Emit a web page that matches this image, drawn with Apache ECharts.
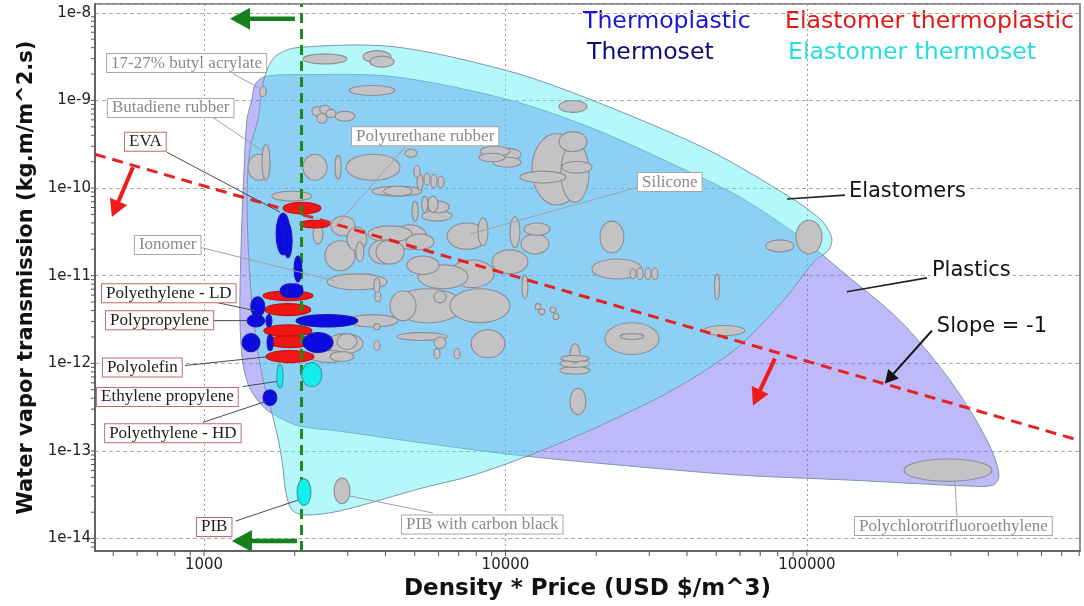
<!DOCTYPE html>
<html>
<head>
<meta charset="utf-8">
<script src="https://cdn.jsdelivr.net/npm/echarts@6/dist/echarts.min.js"></script>
<style>
  html, body { margin: 0; padding: 0; background: #ffffff; }
  #chart { width: 1084px; height: 606px; }
</style>
</head>
<body>
<div id="chart"></div>
<script>
// Axis ranges: density*price (USD/m^3) and water vapour transmission (kg.m/m^2.s)
const X_RANGE = [435, 805000];
const Y_RANGE = [7.2e-15, 1.26e-8];

// Material bubbles as [price min, price max, WVTR min, WVTR max]
const otherMaterials = [
  [2130, 2980, 2.6e-9, 3.4e-9], [3370, 4170, 2.7e-9, 3.7e-9], [3550, 4270, 2.4e-9, 3.2e-9],
  [3030, 4300, 1.14e-9, 1.48e-9], [1530, 1610, 1.11e-9, 1.44e-9],
  [2280, 2500, 6.6e-10, 8.5e-10], [2420, 2620, 7.1e-10, 8.8e-10], [2370, 2560, 5.5e-10, 7.1e-10],
  [2540, 2740, 6.4e-10, 7.9e-10], [2720, 3170, 5.8e-10, 7.5e-10], [4640, 5090, 2.25e-10, 2.77e-10],
  [1400, 1655, 1.23e-10, 2.43e-10], [1557, 1655, 1.23e-10, 3.16e-10], [2130, 2560, 1.23e-10, 2.43e-10],
  [2720, 2850, 1.26e-10, 2.37e-10], [2960, 4470, 1.23e-10, 2.43e-10], [1680, 2280, 7.1e-11, 9.2e-11],
  [3610, 5280, 8.1e-11, 1.05e-10], [3950, 4900, 8.1e-11, 1.05e-10], [5090, 5330, 9.5e-11, 1.44e-10],
  [5370, 5620, 1.08e-10, 1.48e-10], [5660, 5930, 1.0e-10, 1.44e-10], [5975, 6250, 1.0e-10, 1.37e-10],
  [4970, 5210, 1.33e-10, 1.82e-10], [8240, 10350, 2.3e-10, 3.0e-10], [9230, 11260, 2.07e-10, 2.84e-10],
  [9090, 11260, 1.73e-10, 2.25e-10], [8170, 9960, 2.0e-10, 2.5e-10], [12240, 17940, 6.4e-11, 4.2e-10],
  [15270, 18930, 6.9e-11, 3.3e-10], [15050, 18640, 2.6e-10, 4.4e-10], [15390, 19360, 1.48e-10, 2.02e-10],
  [11170, 15870, 1.14e-10, 1.56e-10], [15050, 18640, 7.3e-10, 1.0e-9], [20580, 24700, 1.82e-11, 4.2e-11],
  [19360, 28370, 9.2e-12, 1.55e-11], [25880, 27100, 9.2e-12, 1.2e-11], [27300, 28580, 9.0e-12, 1.23e-11],
  [29020, 30370, 9.0e-12, 1.23e-11], [30600, 32040, 9.0e-12, 1.23e-11], [11520, 14050, 2.9e-11, 4.0e-11],
  [11260, 13930, 1.77e-11, 3.0e-11], [10350, 11170, 2.1e-11, 4.7e-11], [9020, 11870, 1.05e-11, 1.97e-11],
  [11340, 11870, 5.45e-12, 1.02e-11], [8110, 8750, 2.2e-11, 4.55e-11], [6400, 8680, 2.0e-11, 4.0e-11],
  [3500, 4900, 2.43e-11, 3.7e-11], [3525, 4370, 1.36e-11, 2.56e-11], [4710, 6020, 1.03e-11, 1.68e-11],
  [4680, 5790, 1.97e-11, 3.0e-11], [5130, 7510, 7.1e-12, 1.33e-11], [6550, 9160, 7.3e-12, 1.51e-11],
  [4240, 7230, 2.9e-12, 7.1e-12], [6550, 10350, 2.9e-12, 7.1e-12], [4140, 5050, 3.07e-12, 6.7e-12],
  [5790, 6350, 4.9e-12, 6.7e-12], [3000, 4400, 2.6e-12, 3.6e-12], [3660, 3835, 2.42e-12, 2.84e-12],
  [4370, 6400, 1.82e-12, 2.24e-12], [5790, 6350, 1.47e-12, 2.0e-12], [7690, 9960, 1.16e-12, 2.42e-12],
  [5790, 6070, 1.13e-12, 1.47e-12], [6750, 7070, 1.13e-12, 1.47e-12], [3660, 3835, 1.4e-12, 1.82e-12],
  [2760, 3220, 1.44e-12, 2.18e-12], [2620, 3140, 1.05e-12, 1.36e-12], [12530, 13110, 4.1e-12, 4.8e-12],
  [12910, 13520, 3.6e-12, 4.2e-12], [14050, 14710, 3.8e-12, 4.4e-12], [14380, 15050, 3.15e-12, 3.7e-12],
  [16370, 17670, 1.0e-12, 1.68e-12], [15160, 19070, 9.0e-13, 1.1e-12], [15160, 19070, 7.5e-13, 9.2e-13],
  [15270, 18930, 1.05e-12, 1.23e-12], [21380, 32300, 1.26e-12, 2.9e-12], [23980, 28800, 1.87e-12, 2.18e-12],
  [49350, 51270, 5.3e-12, 1.05e-11], [45400, 62200, 2.07e-12, 2.7e-12], [16370, 18490, 2.6e-13, 5.2e-13],
  [91940, 112200, 1.77e-11, 4.3e-11], [73100, 90560, 1.87e-11, 2.56e-11], [2300, 2480, 2.3e-11, 3.9e-11],
  [2640, 3170, 2.84e-11, 4.8e-11], [2520, 3170, 1.14e-11, 2.5e-11], [2980, 3470, 1.92e-11, 3.6e-11],
  [2560, 4050, 6.9e-12, 1.05e-11], [3660, 3835, 6.2e-12, 9.45e-12], [3690, 3865, 5.05e-12, 6.55e-12],
  [3190, 3390, 1.44e-11, 2.43e-11], [3720, 4610, 1.36e-11, 2.56e-11], [4240, 5490, 2.0e-11, 3.8e-11],
  [2250, 3050, 1.02e-12, 1.4e-12], [2560, 3370, 1.29e-12, 2.18e-12], [5280, 6650, 4.2e-11, 5.5e-11],
  [4900, 5130, 4.2e-11, 7.1e-11], [5280, 5530, 5.3e-11, 8.1e-11], [5530, 5975, 5.3e-11, 8.1e-11],
  [5490, 6500, 5.2e-11, 7.1e-11],
  [2700, 3050, 2.5e-14, 4.9e-14],
  [210000, 411000, 4.5e-14, 8.1e-14]
];
const thermoplastics = [
  [1735, 1930, 1.73e-11, 5.2e-11], [1840, 1960, 1.6e-11, 3.9e-11], [1990, 2110, 8.5e-12, 1.68e-11],
  [1790, 2080, 5.6e-12, 8.1e-12], [1885, 2130, 5.6e-12, 8.1e-12], [1430, 1590, 3.4e-12, 5.75e-12],
  [1390, 1590, 2.6e-12, 3.6e-12], [1605, 1680, 2.6e-12, 3.6e-12], [2020, 3240, 2.6e-12, 3.6e-12],
  [1337, 1534, 1.36e-12, 2.18e-12], [1620, 1695, 1.4e-12, 2.12e-12], [2130, 2680, 1.33e-12, 2.24e-12],
  [1570, 1745, 3.3e-13, 5.0e-13]
];
const elastomerThermoplastics = [
  [1830, 2440, 5.05e-11, 6.9e-11], [2080, 2620, 3.5e-11, 4.3e-11], [1570, 2300, 5.2e-12, 6.7e-12],
  [1590, 2260, 3.5e-12, 4.8e-12], [1580, 2280, 2.02e-12, 2.76e-12], [1620, 2300, 1.51e-12, 2.07e-12],
  [1605, 2315, 1.02e-12, 1.4e-12]
];
const elastomerThermosets = [
  [1745, 1830, 5.2e-13, 9.7e-13], [2110, 2460, 5.4e-13, 1.02e-12], [2035, 2265, 2.4e-14, 4.8e-14]
];

// Family envelopes, as [price, WVTR] outline points
const plasticsEnvelope = [
  [1443, 1.03e-9], [1476, 1.52e-9], [1593, 1.87e-9], [2081, 1.97e-9], [4237, 1.87e-9], [10110, 1.03e-9],
  [19070, 4.93e-10], [35940, 1.87e-10], [60000, 7.88e-11], [94800, 2.77e-11], [133700, 1.05e-11],
  [203500, 3.07e-12], [287000, 7.65e-13], [360600, 2.36e-13], [414000, 9.43e-14], [433400, 5.16e-14],
  [414000, 4.07e-14], [347200, 3.97e-14], [138900, 4.65e-14], [60000, 5.3e-14], [23980, 6.89e-14],
  [11780, 8.7e-14], [6067, 1.16e-13], [2824, 1.68e-13], [2081, 1.91e-13], [1828, 2.3e-13],
  [1593, 3.06e-13], [1421, 5.17e-13], [1346, 9.95e-13], [1316, 3.23e-12], [1327, 2.02e-11],
  [1358, 1.64e-10], [1389, 6.07e-10]
];
const elastomersEnvelope = [
  [1581, 1.73e-9], [1720, 3.16e-9], [2035, 4.0e-9], [4237, 4.11e-9], [10110, 2.19e-9], [19070, 1.03e-9],
  [46560, 2.77e-10], [87800, 7.88e-11], [112200, 4.21e-11], [121000, 2.62e-11], [117400, 1.92e-11],
  [106200, 1.48e-11], [84500, 5.45e-12], [60000, 1.6e-12], [44200, 7.6e-13], [31800, 3.98e-13],
  [19070, 1.72e-13], [11780, 8.7e-14], [7630, 5.16e-14], [5326, 3.8e-14], [2824, 2.07e-14],
  [2162, 1.86e-14], [1958, 2.12e-14], [1871, 3.31e-14], [1828, 6.4e-14], [1774, 1.22e-13],
  [1681, 2.69e-13], [1581, 5.9e-13], [1487, 1.91e-12], [1421, 9.2e-12], [1389, 7.5e-11],
  [1421, 2.77e-10], [1510, 6.07e-10]
];

// Guide lines
const slopeLine = [[435, 2.43e-10], [805000, 1.313e-13]];   // WVTR * price = const (slope -1)
const priceLimit = 2100;

// Callout labels
const calloutLabels = ['17-27% butyl acrylate', 'Butadiene rubber', 'EVA', 'Ionomer', 'Polyethylene - LD',
  'Polypropylene', 'Polyolefin', 'Ethylene propylene', 'Polyethylene - HD', 'PIB', 'PIB with carbon black',
  'Polyurethane rubber', 'Silicone', 'Polychlorotrifluoroethylene'];
const calloutAt = [[477, 2.67e-9], [480, 8.2e-10], [547, 3.37e-10], [590, 2.24e-11], [459, 6.3e-12],
  [473, 3.11e-12], [462, 8.96e-13], [442, 4.14e-13], [470, 1.59e-13], [948, 1.36e-14], [4537, 1.45e-14],
  [3097, 3.89e-10], [27510, 1.17e-10], [144300, 1.39e-14]];
const calloutLeaders = [[1248, 2.02e-9, 1557, 1.33e-9], [1071, 6.4e-10, 1569, 2.63e-10],
  [754, 2.56e-10, 1786, 5.32e-11], [933, 2.18e-11, 2719, 8.74e-12], [1113, 4.91e-12, 1476, 3.99e-12],
  [1071, 3.07e-12, 1399, 3.07e-12], [865, 9.44e-13, 1630, 1.19e-12], [1346, 5.44e-13, 1746, 6.21e-13],
  [992, 2.12e-13, 1605, 3.68e-13], [1277, 1.59e-14, 2050, 2.75e-14], [5747, 1.96e-14, 3049, 3.06e-14],
  [4642, 2.92e-10, 2719, 3.59e-11], [27510, 1.02e-10, 7630, 2.99e-11], [314500, 1.81e-14, 309700, 4.53e-14]];
const keyMaterials = ['EVA', 'Polyethylene - LD', 'Polypropylene', 'Polyolefin', 'Ethylene propylene',
  'Polyethylene - HD', 'PIB'];

// Family captions
const familyLabels = ['Elastomers', 'Plastics', 'Slope = -1'];
const familyAt = [[135700, 9.23e-11], [255800, 1.14e-11], [265700, 2.62e-12]];
const familyLeaders = [[85870, 7.5e-11, 133700, 8.3e-11], [135700, 6.55e-12, 250000, 9.45e-12]];
const slopePointer = [[259800, 2.36e-12, 181400, 5.9e-13]];

// Direction arrows
const redArrows = [[581, 1.73e-10, 495, 4.67e-11], [78300, 1.13e-12, 66220, 3.31e-13]];
const greenArrows = [[2003, 8.55e-9, 1220, 8.55e-9], [2035, 9.4e-15, 1238, 9.4e-15]];

// Logarithmic sub-ticks (2..9 per decade)
function logSubTicks(lo, hi, e0, e1) {
  const out = [];
  for (let e = e0; e <= e1; e++) {
    for (let m = 1; m <= 9; m++) {
      const v = m * Math.pow(10, e);
      if (v > lo * 1.001 && v < hi * 0.999) out.push([v]);
    }
  }
  return out;
}
const xSubTicks = logSubTicks(X_RANGE[0], X_RANGE[1], 2, 5);
const ySubTicks = logSubTicks(Y_RANGE[0], Y_RANGE[1], -15, -9);

const chart = echarts.init(document.getElementById('chart'));

function ellipseSeries(name, data, fill, stroke, z) {
  const sorted = data.slice().sort((a, b) =>
    Math.log(b[1] / b[0]) * Math.log(b[3] / b[2]) - Math.log(a[1] / a[0]) * Math.log(a[3] / a[2]));
  return {
    type: 'custom', name: name, z: z, clip: true, silent: true,
    data: sorted, encode: { x: [0, 1], y: [2, 3] },
    renderItem: function (params, api) {
      const a = api.coord([api.value(0), api.value(3)]);
      const b = api.coord([api.value(1), api.value(2)]);
      return {
        type: 'ellipse',
        shape: { cx: (a[0] + b[0]) / 2, cy: (a[1] + b[1]) / 2,
                 rx: Math.abs(b[0] - a[0]) / 2, ry: Math.abs(b[1] - a[1]) / 2 },
        style: { fill: fill, stroke: stroke, lineWidth: 1.1 }
      };
    }
  };
}

function envelopeSeries(name, points, fill, z) {
  return {
    type: 'custom', name: name, z: z, clip: true, silent: true,
    data: points,
    renderItem: function (params, api) {
      if (params.dataIndex !== 0) return null;
      return {
        type: 'polygon',
        shape: { points: points.map(p => api.coord(p)), smooth: 0.3 },
        style: { fill: fill, stroke: '#7f95aa', lineWidth: 1 }
      };
    }
  };
}

function segmentSeries(name, segs, color, width, z) {
  return {
    type: 'custom', name: name, z: z, silent: true,
    data: segs, encode: { x: [0, 2], y: [1, 3] },
    renderItem: function (params, api) {
      const a = api.coord([api.value(0), api.value(1)]);
      const b = api.coord([api.value(2), api.value(3)]);
      return { type: 'line', shape: { x1: a[0], y1: a[1], x2: b[0], y2: b[1] },
               style: { stroke: typeof color === 'function' ? color(params.dataIndex) : color, lineWidth: width } };
    }
  };
}

function arrowSeries(name, segs, color, width, head, z) {
  return {
    type: 'custom', name: name, z: z, silent: true,
    data: segs, encode: { x: [0, 2], y: [1, 3] },
    renderItem: function (params, api) {
      const a = api.coord([api.value(0), api.value(1)]);
      const b = api.coord([api.value(2), api.value(3)]);
      const ang = Math.atan2(b[1] - a[1], b[0] - a[0]);
      const hw = head * 0.55;
      const base = [b[0] - head * Math.cos(ang), b[1] - head * Math.sin(ang)];
      const l = [base[0] + hw * Math.sin(ang), base[1] - hw * Math.cos(ang)];
      const r = [base[0] - hw * Math.sin(ang), base[1] + hw * Math.cos(ang)];
      return { type: 'group', children: [
        { type: 'line', shape: { x1: a[0], y1: a[1], x2: base[0] + 1 * Math.cos(ang), y2: base[1] + 1 * Math.sin(ang) },
          style: { stroke: color, lineWidth: width } },
        { type: 'polygon', shape: { points: [b, l, r] }, style: { fill: color } }
      ] };
    }
  };
}

const legendFont = '23.6px "DejaVu Sans"';

const option = {
  animation: false,
  backgroundColor: '#ffffff',
  grid: { left: 95, right: 4, top: 4, bottom: 53, show: true, borderColor: '#8c8c8c', borderWidth: 2,
          backgroundColor: 'transparent' },
  xAxis: {
    type: 'log', logBase: 10, min: X_RANGE[0], max: X_RANGE[1],
    name: 'Density * Price (USD $/m^3)', nameLocation: 'middle', nameGap: 24,
    nameTextStyle: { fontFamily: 'DejaVu Sans', fontWeight: 'bold', fontSize: 23, color: '#111' },
    axisLine: { show: true, onZero: false, lineStyle: { color: '#555', width: 1.5 } },
    axisTick: { show: false },
    axisLabel: { formatter: v => String(Math.round(v)), showMinLabel: false, showMaxLabel: false,
                 margin: 7, color: '#222', fontFamily: 'DejaVu Sans', fontSize: 15 },
    splitLine: { show: true, lineStyle: { color: '#9a9a9a', type: [2, 3], width: 1 } }
  },
  yAxis: {
    type: 'log', logBase: 10, min: Y_RANGE[0], max: Y_RANGE[1],
    name: 'Water vapor transmission (kg.m/m^2.s)', nameLocation: 'middle', nameGap: 52,
    nameTextStyle: { fontFamily: 'DejaVu Sans', fontWeight: 'bold', fontSize: 21, color: '#111' },
    axisLine: { show: true, onZero: false, lineStyle: { color: '#555', width: 1.5 } },
    axisTick: { show: false },
    axisLabel: { formatter: v => '1e' + Math.round(Math.log10(v)), showMinLabel: false, showMaxLabel: false,
                 margin: 4, color: '#222', fontFamily: 'DejaVu Sans', fontSize: 15 },
    splitLine: { show: true, lineStyle: { color: '#a8a8a8', type: [4, 3], width: 1 } }
  },
  graphic: [
    { type: 'text', left: 583, top: 10, style: { text: 'Thermoplastic', fill: '#1616d6', font: legendFont } },
    { type: 'text', left: 587, top: 41, style: { text: 'Thermoset', fill: '#0d0d74', font: legendFont } },
    { type: 'text', left: 785, top: 10, style: { text: 'Elastomer thermoplastic', fill: '#e01818', font: legendFont } },
    { type: 'text', left: 788, top: 41, style: { text: 'Elastomer thermoset', fill: '#26dede', font: legendFont } }
  ],
  series: [
    envelopeSeries('Plastics', plasticsEnvelope, 'rgba(111,99,239,0.45)', 1),
    envelopeSeries('Elastomers', elastomersEnvelope, 'rgba(76,238,243,0.42)', 2),
    ellipseSeries('Other materials', otherMaterials, '#c3c3c5', '#8d8d92', 3),
    ellipseSeries('Elastomer thermoplastic', elastomerThermoplastics, '#f01616', '#c21010', 4),
    ellipseSeries('Thermoplastic', thermoplastics, '#0c0ce2', '#1a1aa8', 5),
    ellipseSeries('Elastomer thermoset', elastomerThermosets, '#14eded', '#3c9c9c', 6),
    {
      type: 'line', name: 'Slope -1', z: 7, data: slopeLine, symbol: 'none', silent: true,
      lineStyle: { color: '#e42222', width: 3, type: [11, 7] },
      markLine: {
        silent: true, symbol: 'none', label: { show: false },
        lineStyle: { color: '#1c8c1c', width: 3, type: [10, 6] },
        data: [{ xAxis: priceLimit }]
      }
    },
    segmentSeries('Leaders', calloutLeaders,
      i => keyMaterials.indexOf(calloutLabels[i]) >= 0 ? '#4a4a4a' : '#a0a0a0', 1, 8),
    segmentSeries('Family leaders', familyLeaders, '#222', 1.6, 8),
    {
      type: 'custom', name: 'Callouts', z: 9, silent: true,
      data: calloutAt,
      renderItem: function (params, api) {
        const p = api.coord([api.value(0), api.value(1)]);
        const name = calloutLabels[params.dataIndex];
        const key = keyMaterials.indexOf(name) >= 0;
        return {
          type: 'text', x: p[0], y: p[1],
          style: { text: name, fontFamily: 'Liberation Serif', fontSize: 17,
                   fill: key ? '#1c1c1c' : '#8a8a8a', align: 'left', verticalAlign: 'middle',
                   backgroundColor: '#ffffff', borderColor: key ? '#c46a6a' : '#a6a6a6',
                   borderWidth: 1, padding: [1, 4, 0, 4] }
        };
      }
    },
    {
      type: 'custom', name: 'Family captions', z: 9, silent: true,
      data: familyAt,
      renderItem: function (params, api) {
        const p = api.coord([api.value(0), api.value(1)]);
        return {
          type: 'text', x: p[0], y: p[1],
          style: { text: familyLabels[params.dataIndex], fontFamily: 'DejaVu Sans', fontSize: 21,
                   fill: '#111', align: 'left', verticalAlign: 'middle',
                   backgroundColor: '#ffffff', padding: [0, 2] }
        };
      }
    },
    arrowSeries('Slope pointer', slopePointer, '#111', 2, 13, 10),
    arrowSeries('Red arrows', redArrows, '#f01c1c', 4, 17, 10),
    arrowSeries('Green arrows', greenArrows, '#16801c', 4.5, 20, 10),
    {
      type: 'custom', name: 'x sub-ticks', z: 10, silent: true, data: xSubTicks,
      renderItem: function (params, api) {
        const p = api.coord([api.value(0), Y_RANGE[0]]);
        return { type: 'line', shape: { x1: p[0], y1: p[1], x2: p[0], y2: p[1] + 5 },
                 style: { stroke: '#555', lineWidth: 1 } };
      }
    },
    {
      type: 'custom', name: 'y sub-ticks', z: 10, silent: true, data: ySubTicks,
      renderItem: function (params, api) {
        const p = api.coord([X_RANGE[0], api.value(0)]);
        return { type: 'line', shape: { x1: p[0], y1: p[1], x2: p[0] - 4, y2: p[1] },
                 style: { stroke: '#555', lineWidth: 1 } };
      }
    }
  ]
};
chart.setOption(option);
</script>
</body>
</html>
